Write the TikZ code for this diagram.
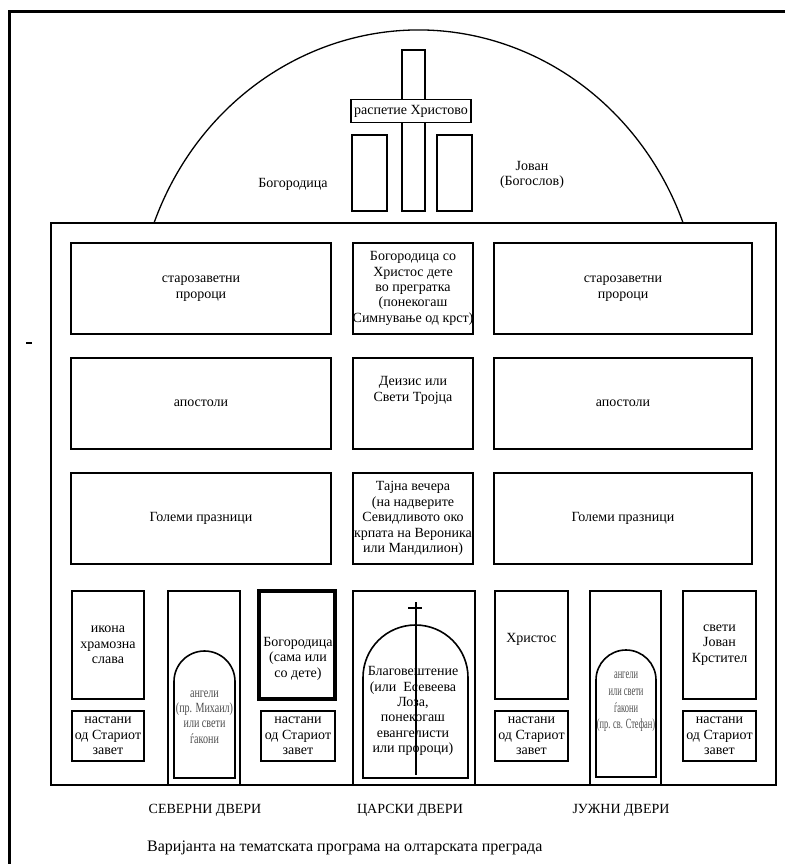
\documentclass[tikz,border=0pt]{standalone}
\usepackage{fontspec}
\setmainfont{Liberation Serif}
\newfontfamily\narrowfont[FakeStretch=0.72]{Liberation Serif}
\newfontfamily\narrowerfont[FakeStretch=0.6]{Liberation Serif}
\begin{document}
\begin{tikzpicture}[x=1pt,y=-1pt,
    panel/.style={draw,line width=1.8pt,inner sep=0pt,align=center,
      font=\fontsize{14}{15.4}\selectfont},
    wording/.style={inner sep=0pt,align=center,font=\fontsize{14}{15.4}\selectfont},
    angeltext/.style={inner sep=0pt,align=center,text=black!70},
    gate/.style={line width=1.6pt},
    doorname/.style={inner sep=0pt,font=\fontsize{14}{16}\selectfont}]
  \useasboundingbox (0,0) rectangle (784,864);
  \draw[line width=3pt] (9,12) rectangle (830,900);
  \draw[line width=1.5pt] (26,343) -- (32,343);
  % arch with the cross
  \draw[line width=1.3pt] (154,223) arc[start angle=-159.1,end angle=-20.9,x radius=283.2,y radius=300];
  \draw[gate] (402,50) rectangle (425,211);
  \node[panel,fill=white,minimum width=120pt,minimum height=23pt] (crucifix) at (411,111) {распетие Христово};
  \draw[gate] (352,135) rectangle (387,211);
  \draw[gate] (437,135) rectangle (472,211);
  \node[wording] (mary) at (293,184) {Богородица};
  \node[wording] (john) at (532,175) {Јован\\(Богослов)};
  % iconostasis
  \draw[line width=1.6pt] (51,223) rectangle (776,785);
  \node[panel,minimum width=260pt,minimum height=91pt] (prophetsL) at (201,288.5) {старозаветни\\пророци};
  \node[panel,minimum width=120pt,minimum height=91pt] (hodegetria) at (413,288.5) {Богородица со\\Христос дете\\во прегратка\\(понекогаш\\Симнување од крст)};
  \node[panel,minimum width=258pt,minimum height=91pt] (prophetsR) at (623,288.5) {старозаветни\\пророци};
  \node[panel,minimum width=260pt,minimum height=91pt] (apostlesL) at (201,403.5) {апостоли};
  \node[panel,minimum width=120pt,minimum height=91pt] (deesis) at (413,403.5) {};
  \node[wording] (deesistext) at (413,390.5) {Деизис или\\Свети Тројца};
  \node[panel,minimum width=258pt,minimum height=91pt] (apostlesR) at (623,403.5) {апостоли};
  \node[panel,minimum width=260pt,minimum height=91pt] (feastsL) at (201,518.5) {Големи празници};
  \node[panel,minimum width=120pt,minimum height=91pt] (supper) at (413,518.5) {Тајна вечера\\(на надверите\\Севидливото око\\крпата на Вероника\\или Мандилион)};
  \node[panel,minimum width=258pt,minimum height=91pt] (feastsR) at (623,518.5) {Големи празници};
  % lower tier
  \node[panel,minimum width=72pt,minimum height=108pt] (patron) at (108,645) {икона\\храмозна\\слава};
  \node[panel,minimum width=72pt,minimum height=50pt] (oldA) at (108,736) {настани\\од Стариот\\завет};
  \draw[gate] (168,785) -- (168,591) -- (240,591) -- (240,785);
  \draw[gate] (174,778) -- (174,681.5) arc[start angle=180,end angle=360,radius=30.5] -- (235,778) -- cycle;
  \node[angeltext,font=\narrowfont\fontsize{14}{15.3}\selectfont] (angelsN) at (204.5,717) {ангели\\(пр. Михаил)\\или свети\\ѓакони};
  \node[panel,line width=3.2pt,minimum width=76pt,minimum height=108pt] (theotokos) at (297,645) {};
  \node[wording] (theotokostext) at (298,658.5) {Богородица\\(сама или\\со дете)};
  \node[panel,minimum width=74pt,minimum height=50pt] (oldB) at (298,736) {настани\\од Стариот\\завет};
  \draw[gate] (353,785) -- (353,591) -- (475,591) -- (475,785);
  \draw[gate] (363,778) -- (363,677.5) arc[start angle=180,end angle=360,radius=52.5] -- (468,778) -- cycle;
  \node[wording] (annunciation) at (413,711) {Благовештение\\(или~ Есевеева\\Лоза,\\понекогаш\\евангелисти\\или пророци)};
  \draw[gate] (416,602) -- (416,775);
  \draw[gate] (408,608) -- (422,608);
  \node[panel,minimum width=73pt,minimum height=108pt] (christ) at (531.5,645) {};
  \node[wording] (christtext) at (531.5,639) {Христос};
  \node[panel,minimum width=73pt,minimum height=50pt] (oldC) at (531.5,736) {настани\\од Стариот\\завет};
  \draw[gate] (590,785) -- (590,591) -- (661,591) -- (661,785);
  \draw[gate] (596,777) -- (596,680) arc[start angle=180,end angle=360,radius=30] -- (656,777) -- cycle;
  \node[angeltext,font=\narrowerfont\fontsize{14}{16.7}\selectfont] (angelsS) at (626,702) {ангели\\или свети\\ѓакони\\(пр. св. Стефан)};
  \node[panel,minimum width=73pt,minimum height=108pt] (baptist) at (719.5,645) {свети\\Јован\\Крстител};
  \node[panel,minimum width=73pt,minimum height=50pt] (oldD) at (719.5,736) {настани\\од Стариот\\завет};
  % doors and caption
  \node[doorname] (north) at (205,810) {СЕВЕРНИ ДВЕРИ};
  \node[doorname] (royal) at (410,810) {ЦАРСКИ ДВЕРИ};
  \node[doorname] (south) at (621,810) {ЈУЖНИ ДВЕРИ};
  \node[doorname,anchor=west,font=\fontsize{16}{18}\selectfont] (caption) at (147,848) {Варијанта на тематската програма на олтарската преграда};
\end{tikzpicture}
\end{document}
